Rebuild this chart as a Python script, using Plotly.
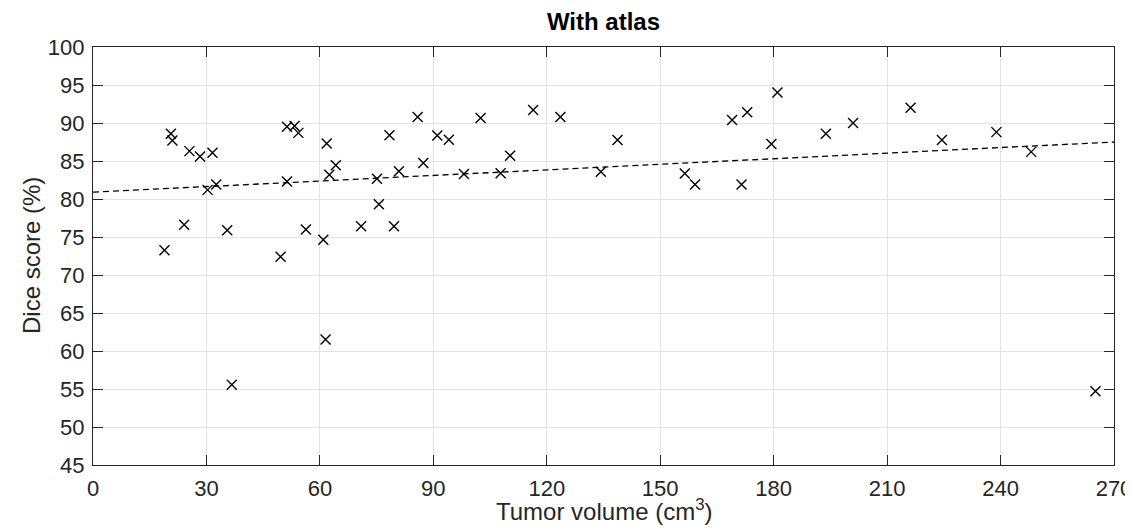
import plotly.graph_objects as go

# Tumor volume (cm^3) and Dice score (%)
tumor_volume = [18.9, 20.6, 21.0, 24.1, 25.5, 28.3, 31.6, 30.3, 32.6, 35.5,
                36.7, 49.6, 51.3, 53.3, 54.3, 51.3, 56.3, 60.9, 61.8, 62.5,
                61.5, 64.2, 70.9, 75.1, 75.6, 78.4, 79.6, 80.9, 85.85, 87.35,
                91.05, 94.1, 98.1, 102.5, 107.8, 110.3, 116.4, 123.6, 134.3, 138.7,
                156.5, 159.2, 169.0, 173.0, 171.5, 179.4, 181.0, 193.8, 201.0, 216.2,
                224.5, 238.9, 248.1, 265.1]
dice_score = [73.25, 88.6, 87.7, 76.6, 86.3, 85.6, 86.1, 81.2, 81.9, 75.9,
              55.55, 72.4, 89.5, 89.6, 88.7, 82.3, 76.0, 74.65, 87.3, 83.2,
              61.5, 84.45, 76.4, 82.65, 79.3, 88.4, 76.4, 83.65, 90.8, 84.75,
              88.35, 87.8, 83.3, 90.65, 83.4, 85.7, 91.7, 90.8, 83.6, 87.75,
              83.35, 81.9, 90.4, 91.4, 81.9, 87.25, 94.0, 88.6, 90.0, 92.0,
              87.75, 88.8, 86.2, 54.7]

# Linear trend line endpoints
trend_x = [0, 270]
trend_y = [80.9, 87.5]

x_ticks = [0, 30, 60, 90, 120, 150, 180, 210, 240, 270]
y_ticks = [45, 50, 55, 60, 65, 70, 75, 80, 85, 90, 95, 100]

title_text = "<b>With atlas</b>"
x_label = "Tumor volume (cm<sup>3</sup>)"
y_label = "Dice score (%)"

TXT = "#262626"
FONT = "Liberation Sans, Arial, sans-serif"

W, H = 1133, 529
ML, MR, MT, MB = 85, 27, 39, 72
PW, PH = W - ML - MR, H - MT - MB

fig = go.Figure()
fig.add_trace(go.Scatter(
    x=trend_x, y=trend_y, mode="lines",
    line=dict(color="black", width=1.3, dash="6px,4px"),
    showlegend=False, hoverinfo="skip"))
fig.add_trace(go.Scatter(
    x=tumor_volume, y=dice_score, mode="markers",
    marker=dict(symbol="x-thin-open", size=10, color="black",
                line=dict(color="black", width=1.4)),
    showlegend=False))

axis_common = dict(
    showline=True, linecolor=TXT, linewidth=1.2, mirror="allticks",
    ticks="inside", ticklen=10, tickwidth=1, tickcolor=TXT,
    showgrid=True, gridcolor="#e3e3e3", gridwidth=1,
    zeroline=False, automargin=False, ticklabelstandoff=3,
    tickfont=dict(family=FONT, size=22, color=TXT),
)

fig.update_layout(
    width=W, height=H,
    margin=dict(l=ML, r=MR, t=MT, b=MB),
    paper_bgcolor="white", plot_bgcolor="white",
    font=dict(family=FONT, color=TXT),
    title=dict(text=title_text, x=(ML + PW / 2) / W, xref="container",
               y=1 - 14 / H, yref="container", xanchor="center", yanchor="middle",
               font=dict(family=FONT, size=24, color="black")),
    xaxis=dict(range=[0, 270], tickvals=x_ticks, ticktext=[str(v) for v in x_ticks],
               **axis_common),
    yaxis=dict(range=[45, 100], tickvals=y_ticks, ticktext=[str(v) for v in y_ticks],
               **axis_common),
    annotations=[
        dict(text=x_label, xref="paper", yref="paper", x=0.5, y=-(519 - (H - MB)) / PH,
             xanchor="center", yanchor="bottom", showarrow=False,
             font=dict(family=FONT, size=24, color=TXT)),
        dict(text=y_label, xref="paper", yref="paper", x=-(ML - 23) / PW, y=0.5,
             xanchor="center", yanchor="middle", textangle=-90, showarrow=False,
             font=dict(family=FONT, size=24, color=TXT)),
    ],
)

fig.write_html("out.html")
